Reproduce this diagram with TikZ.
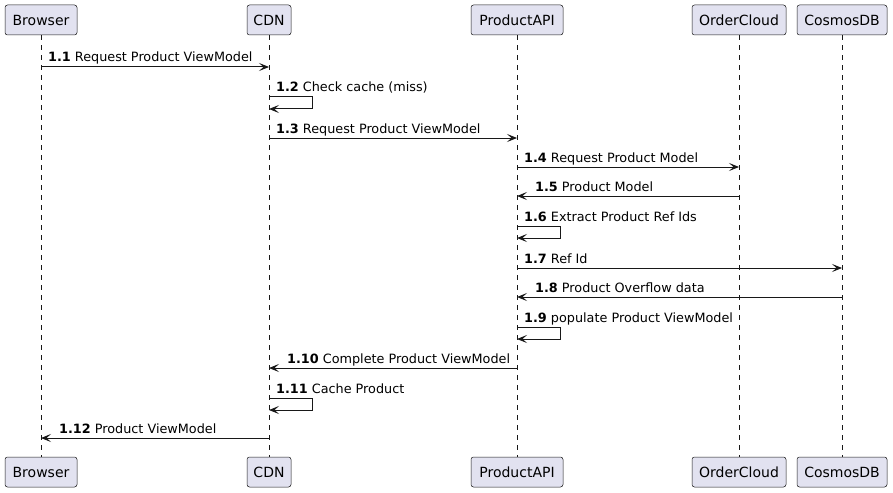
\documentclass[tikz,border=0pt]{standalone}
\usepackage{fontspec}
\setmainfont{DejaVu Sans}
\usetikzlibrary{arrows.meta}
\definecolor{boxfill}{HTML}{E2E2F0}
\definecolor{ink}{HTML}{181818}
\begin{document}
\begin{tikzpicture}[x=1pt,y=-1pt,
 part/.style={draw=ink,line width=0.5pt,fill=boxfill,rounded corners=2.5pt,minimum height=30pt,inner sep=0pt,font=\fontsize{14}{16}\selectfont},
 life/.style={draw=ink,line width=0.5pt,dash pattern=on 5pt off 5pt},
 msg/.style={draw=ink,line width=1pt,-{Stealth[length=10pt,width=8pt,inset=4.5pt]}},
 lbl/.style={anchor=base west,inner sep=0pt,font=\fontsize{12.8}{15}\selectfont}]
\path[use as bounding box,fill=white] (0,0) rectangle (893,492);
% participants top
\node[part,minimum width=72pt] (tB) at (41,20) {Browser};
\node[part,minimum width=44pt] (tC) at (269,20) {CDN};
\node[part,minimum width=92pt] (tP) at (517,20) {ProductAPI};
\node[part,minimum width=94pt] (tO) at (739,20) {OrderCloud};
\node[part,minimum width=90pt] (tD) at (842,20) {CosmosDB};
% participants bottom
\node[part,minimum width=72pt] (bB) at (41,472) {Browser};
\node[part,minimum width=44pt] (bC) at (269,472) {CDN};
\node[part,minimum width=92pt] (bP) at (517,472) {ProductAPI};
\node[part,minimum width=94pt] (bO) at (739,472) {OrderCloud};
\node[part,minimum width=90pt] (bD) at (842,472) {CosmosDB};
% lifelines
\draw[life] (tB.south) -- (bB.north);
\draw[life] (tC.south) -- (bC.north);
\draw[life] (tP.south) -- (bP.north);
\draw[life] (tO.south) -- (bO.north);
\draw[life] (tD.south) -- (bD.north);
% message levels
\coordinate (m1) at (0,67);
\coordinate (m2) at (0,97);
\coordinate (m3) at (0,138);
\coordinate (m4) at (0,167);
\coordinate (m5) at (0,196);
\coordinate (m6) at (0,226);
\coordinate (m7) at (0,268);
\coordinate (m8) at (0,297);
\coordinate (m9) at (0,327);
\coordinate (m10) at (0,368);
\coordinate (m11) at (0,398);
\coordinate (m12) at (0,438);
% messages
\draw[msg] (tB|-m1) -- (tC|-m1);
\path (tB|-m1) ++(7,-5) node[lbl] (l1) {\textbf{1.1} Request Product ViewModel};
\draw[msg] (tC|-m2) -- ++(43,0) -- ++(0,12) -- ++(-43,0);
\path (tC|-m2) ++(7,-5) node[lbl] (l2) {\textbf{1.2} Check cache (miss)};
\draw[msg] (tC|-m3) -- (tP|-m3);
\path (tC|-m3) ++(7,-5) node[lbl] (l3) {\textbf{1.3} Request Product ViewModel};
\draw[msg] (tP|-m4) -- (tO|-m4);
\path (tP|-m4) ++(7,-5) node[lbl] (l4) {\textbf{1.4} Request Product Model};
\draw[msg] (tO|-m5) -- (tP|-m5);
\path (tP|-m5) ++(18,-5) node[lbl] (l5) {\textbf{1.5} Product Model};
\draw[msg] (tP|-m6) -- ++(43,0) -- ++(0,12) -- ++(-43,0);
\path (tP|-m6) ++(7,-5) node[lbl] (l6) {\textbf{1.6} Extract Product Ref Ids};
\draw[msg] (tP|-m7) -- (tD|-m7);
\path (tP|-m7) ++(7,-5) node[lbl] (l7) {\textbf{1.7} Ref Id};
\draw[msg] (tD|-m8) -- (tP|-m8);
\path (tP|-m8) ++(18,-5) node[lbl] (l8) {\textbf{1.8} Product Overflow data};
\draw[msg] (tP|-m9) -- ++(43,0) -- ++(0,12) -- ++(-43,0);
\path (tP|-m9) ++(7,-5) node[lbl] (l9) {\textbf{1.9} populate Product ViewModel};
\draw[msg] (tP|-m10) -- (tC|-m10);
\path (tC|-m10) ++(18,-5) node[lbl] (l10) {\textbf{1.10} Complete Product ViewModel};
\draw[msg] (tC|-m11) -- ++(43,0) -- ++(0,12) -- ++(-43,0);
\path (tC|-m11) ++(7,-5) node[lbl] (l11) {\textbf{1.11} Cache Product};
\draw[msg] (tC|-m12) -- (tB|-m12);
\path (tB|-m12) ++(18,-5) node[lbl] (l12) {\textbf{1.12} Product ViewModel};
\end{tikzpicture}
\end{document}
